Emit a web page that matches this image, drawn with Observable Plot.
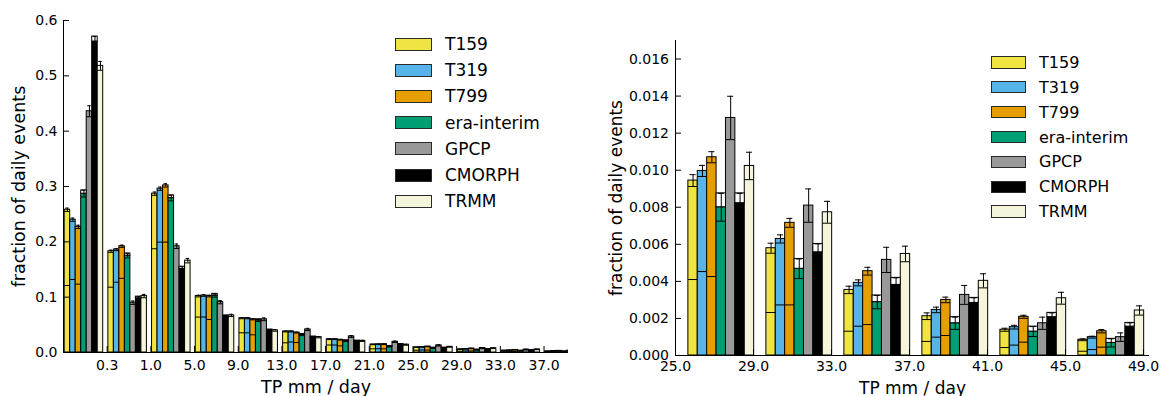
<!DOCTYPE html>
<html><head><meta charset="utf-8">
<script src="https://cdn.jsdelivr.net/npm/d3@7"></script>
<script src="https://cdn.jsdelivr.net/npm/@observablehq/plot@0.6"></script>
<style>
body{margin:0;background:#fff;font-family:"DejaVu Sans",sans-serif;}
#wrap{position:relative;width:1160px;height:396px;overflow:hidden;background:#fff}
.chart{position:absolute;top:0}
.row{position:absolute;display:flex;align-items:center;white-space:nowrap;color:#000;font-family:"DejaVu Sans"}
.sw{box-sizing:border-box;border:1px solid #2a2a2a;flex:none}
</style></head><body><div id="wrap"></div>
<script>
// ---- series ----
const series = ["T159", "T319", "T799", "era-interim", "GPCP", "CMORPH", "TRMM"];
const colors = ["#f0e442", "#56b4e9", "#e69f00", "#009e73", "#999999", "#000000", "#f5f5dc"];
const boxedSeries = ["era-interim", "CMORPH"];

// ---- left chart: all bins ----
const leftTickLabels = ["0.3", "1.0", "5.0", "9.0", "13.0", "17.0", "21.0", "25.0", "29.0", "33.0", "37.0"];
const leftT159   = [0.258, 0.183, 0.287, 0.102, 0.062, 0.038, 0.024, 0.0145, 0.0094, 0.0058, 0.0035, 0.0021];
const leftT319   = [0.240, 0.186, 0.296, 0.103, 0.062, 0.038, 0.024, 0.0148, 0.0099, 0.0063, 0.0039, 0.0025];
const leftT799   = [0.227, 0.192, 0.302, 0.102, 0.060, 0.036, 0.023, 0.0150, 0.0107, 0.0072, 0.0046, 0.0030];
const leftERA    = [0.287, 0.175, 0.279, 0.103, 0.058, 0.032, 0.021, 0.0108, 0.0080, 0.0047, 0.0029, 0.0017];
const leftGPCP   = [0.436, 0.090, 0.192, 0.091, 0.060, 0.0416, 0.029, 0.0193, 0.0128, 0.0081, 0.0052, 0.0033];
const leftCMORPH = [0.562, 0.098, 0.151, 0.065, 0.040, 0.0277, 0.0205, 0.0145, 0.0082, 0.0056, 0.0038, 0.0028];
const leftTRMM   = [0.518, 0.102, 0.166, 0.067, 0.040, 0.0277, 0.021, 0.014, 0.0102, 0.0077, 0.0055, 0.0040];
const leftErrT159   = [0.003, 0.002, 0.003, 0.0015, 0.001, 0.0008, 0.0006, 0.0004, 0.00032, 0.00027, 0.0002, 0.00018];
const leftErrT319   = [0.003, 0.002, 0.003, 0.0015, 0.001, 0.0008, 0.0006, 0.0004, 0.0003, 0.00022, 0.00016, 0.00015];
const leftErrT799   = [0.003, 0.002, 0.003, 0.0015, 0.001, 0.0008, 0.0006, 0.0004, 0.0003, 0.00024, 0.00021, 0.00015];
const leftErrERA    = [0.006, 0.004, 0.005, 0.003, 0.002, 0.0015, 0.001, 0.0008, 0.00075, 0.00053, 0.00036, 0.00033];
const leftErrGPCP   = [0.010, 0.003, 0.004, 0.003, 0.0025, 0.002, 0.0017, 0.0013, 0.00117, 0.0009, 0.00068, 0.00051];
const leftErrCMORPH = [0.009, 0.003, 0.004, 0.002, 0.0015, 0.0012, 0.001, 0.0008, 0.00053, 0.00045, 0.00038, 0.00027];
const leftErrTRMM   = [0.008, 0.003, 0.004, 0.002, 0.0015, 0.0012, 0.001, 0.0009, 0.00074, 0.00059, 0.00042, 0.00038];
const leftMidT159 = [0.121, 0.118, 0.1875, 0.064, 0.0356, 0.0175, 0.0135, 0.0066, 0.0041, 0.0023, 0.0013, 0.0008];
const leftMidT319 = [0.132, 0.127, 0.1995, 0.064, 0.0356, 0.019, 0.0135, 0.0068, 0.0045, 0.0027, 0.0016, 0.0010];
const leftMidT799 = [0.1235, 0.134, 0.1995, 0.0597, 0.032, 0.018, 0.012, 0.0066, 0.0043, 0.0027, 0.0017, 0.0011];
const leftYTicks = [0, 0.1, 0.2, 0.3, 0.4, 0.5, 0.6];

// ---- right chart: heavy-rain bins ----
const rightTickLabels = ["25.0", "29.0", "33.0", "37.0", "41.0", "45.0", "49.0"];
const rightT159   = [0.00944, 0.00579, 0.00354, 0.00212, 0.00139, 0.00085];
const rightT319   = [0.00996, 0.00629, 0.00392, 0.00246, 0.00153, 0.00099];
const rightT799   = [0.0107, 0.00716, 0.00455, 0.0030, 0.00209, 0.00131];
const rightERA    = [0.0080, 0.00468, 0.00288, 0.00174, 0.00129, 0.00068];
const rightGPCP   = [0.01282, 0.00809, 0.00516, 0.00327, 0.00174, 0.00099];
const rightCMORPH = [0.00822, 0.00557, 0.00381, 0.00284, 0.00207, 0.00156];
const rightTRMM   = [0.01023, 0.00773, 0.00548, 0.00403, 0.00309, 0.00243];
const rightErrT159   = [0.00032, 0.00027, 0.0002, 0.00018, 0.00008, 0.00005];
const rightErrT319   = [0.0003, 0.00022, 0.00016, 0.00015, 0.0001, 0.00005];
const rightErrT799   = [0.0003, 0.00024, 0.00021, 0.00015, 0.00008, 0.00009];
const rightErrERA    = [0.00075, 0.00053, 0.00036, 0.00033, 0.00027, 0.00022];
const rightErrGPCP   = [0.00117, 0.0009, 0.00068, 0.00051, 0.00033, 0.00023];
const rightErrCMORPH = [0.00053, 0.00045, 0.00038, 0.00027, 0.00023, 0.0002];
const rightErrTRMM   = [0.00074, 0.00059, 0.00042, 0.00038, 0.00032, 0.00025];
const rightMidT159 = [0.0041, 0.00232, 0.00131, 0.00076, 0.00043, 0.00023];
const rightMidT319 = [0.00453, 0.00273, 0.00158, 0.00099, 0.00056, 0.00032];
const rightMidT799 = [0.00426, 0.00273, 0.00167, 0.00108, 0.00072, 0.00045];
const rightYTicks = [0, 0.002, 0.004, 0.006, 0.008, 0.010, 0.012, 0.014, 0.016];

function buildRows(vals, errs, mids, offset, w) {
  const rows = [];
  series.forEach((s, si) => vals[si].forEach((v, gi) => {
    const x1 = gi + offset + si * w;
    const e = errs[si][gi];
    rows.push({s, v, e, lo: v - e, hi: v + e, m: mids[si] ? mids[si][gi] : null,
      x1, x2: x1 + w, xc: x1 + w / 2, c1: x1 + w * 0.18, c2: x1 + w * 0.82});
  }));
  return rows;
}

function makeChart(cfg) {
  const rows = buildRows(cfg.vals, cfg.errs, cfg.mids, cfg.offset, cfg.w);
  const ticksX = cfg.tickLabels.map((_, i) => i + cfg.tickStart);
  const st = {stroke: "black", strokeWidth: 1, clip: true};
  return Plot.plot({
    width: cfg.width, height: 396,
    marginLeft: cfg.marginLeft, marginRight: cfg.marginRight,
    marginTop: cfg.marginTop, marginBottom: cfg.marginBottom,
    style: {fontFamily: "DejaVu Sans", fontSize: "14px", background: "white", color: "black", overflow: "visible"},
    x: {domain: [0, cfg.xMax], axis: null},
    y: {domain: [0, cfg.yMax], axis: null},
    color: {domain: series, range: colors},
    marks: [
      Plot.rect(rows, {x1: "x1", x2: "x2", y1: 0, y2: "v", fill: "s", ...st}),
      Plot.ruleY(rows.filter(d => d.m != null), {y: "m", x1: "x1", x2: "x2", ...st}),
      Plot.ruleY(rows.filter(d => d.lo > 0), {y: "lo", x1: "x1", x2: "x2", ...st}),
      Plot.rect(rows.filter(d => boxedSeries.includes(d.s)), {x1: "x1", x2: "x2", y1: "v", y2: "hi", fill: "white", ...st}),
      Plot.ruleX(rows, {x: "xc", y1: d => Math.max(0, d.lo), y2: "hi", ...st}),
      Plot.ruleY(rows, {y: "hi", x1: "c1", x2: "c2", ...st}),
      Plot.ruleX([0], {stroke: "black", strokeWidth: 1}),
      Plot.ruleY([0], {stroke: "black", strokeWidth: 1}),
      Plot.axisY({ticks: cfg.yTicks, tickSize: -6, tickPadding: cfg.yPad, tickFormat: cfg.yFmt, label: null, fontSize: 14}),
      Plot.axisX({ticks: ticksX, tickSize: -6, tickPadding: cfg.xPad, tickFormat: d => cfg.tickLabels[Math.round(d) - cfg.tickStart], label: null, fontSize: 14}),
      Plot.text(["TP mm / day"], {frameAnchor: "bottom", textAnchor: "middle", lineAnchor: "bottom", dy: cfg.xLabelDy, fontSize: cfg.labelSize}),
      Plot.text(["fraction of daily events"], {frameAnchor: "left", textAnchor: "middle", lineAnchor: "bottom", rotate: -90, dx: cfg.yLabelDx, fontSize: cfg.labelSize})
    ]
  });
}

const wrap = document.getElementById("wrap");

const left = makeChart({
  vals: [leftT159, leftT319, leftT799, leftERA, leftGPCP, leftCMORPH, leftTRMM],
  errs: [leftErrT159, leftErrT319, leftErrT799, leftErrERA, leftErrGPCP, leftErrCMORPH, leftErrTRMM],
  mids: [leftMidT159, leftMidT319, leftMidT799, null, null, null, null],
  offset: 0.027, w: 0.126, xMax: 11.56, tickLabels: leftTickLabels, tickStart: 1,
  yMax: 0.6, yTicks: leftYTicks, yFmt: d3.format(".1f"),
  width: 590, marginLeft: 63, marginRight: 22, marginTop: 20, marginBottom: 44,
  yPad: 12, xPad: 14, xLabelDy: 40, yLabelDx: -38.5, labelSize: 17.5
});
left.classList.add("chart");
left.style.left = "0px";
wrap.appendChild(left);

const right = makeChart({
  vals: [rightT159, rightT319, rightT799, rightERA, rightGPCP, rightCMORPH, rightTRMM],
  errs: [rightErrT159, rightErrT319, rightErrT799, rightErrERA, rightErrGPCP, rightErrCMORPH, rightErrTRMM],
  mids: [rightMidT159, rightMidT319, rightMidT799, null, null, null, null],
  offset: 0.165, w: 0.1205, xMax: 6.077, tickLabels: rightTickLabels, tickStart: 0,
  yMax: 0.017, yTicks: rightYTicks, yFmt: d3.format(".3f"),
  width: 570, marginLeft: 85, marginRight: 11, marginTop: 40, marginBottom: 41,
  yPad: 12.5, xPad: 12, xLabelDy: 38, yLabelDx: -53.5, labelSize: 17
});
right.classList.add("chart");
right.style.left = "590px";
wrap.appendChild(right);

function legend(x, y0, step, swW, swH, textX, fontSize) {
  series.forEach((s, i) => {
    const row = document.createElement("div");
    row.className = "row";
    row.style.left = x + "px";
    row.style.top = (y0 + i * step - 12) + "px";
    row.style.height = "24px";
    row.style.fontSize = fontSize + "px";
    const sw = document.createElement("div");
    sw.className = "sw";
    sw.style.width = swW + "px";
    sw.style.height = swH + "px";
    sw.style.background = colors[i];
    const t = document.createElement("span");
    t.textContent = s;
    t.style.marginLeft = (textX - x - swW) + "px";
    row.appendChild(sw);
    row.appendChild(t);
    wrap.appendChild(row);
  });
}
legend(395, 44, 26.2, 37, 13, 445, 17);
legend(991, 62.3, 24.9, 35, 12.5, 1039, 16);
</script></body></html>
